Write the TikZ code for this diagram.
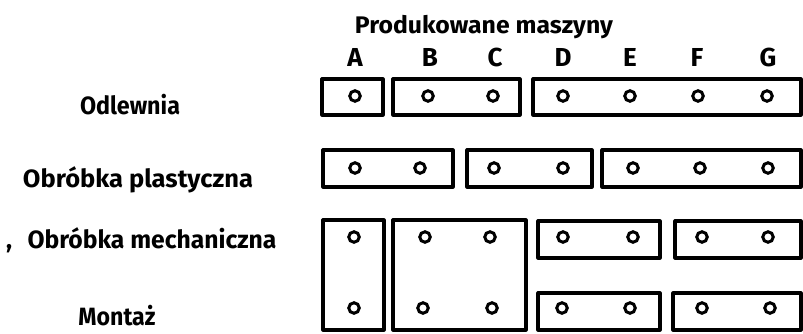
\documentclass[tikz,border=0pt]{standalone}
\usepackage{fontspec}
\usepackage{graphicx}
\setmainfont{Fira Sans}
\newcommand{\wtext}[2]{\resizebox{#1}{\height}{#2}}
\begin{document}
\begin{tikzpicture}[x=1pt,y=-1pt,
  box/.style={draw=black,line width=3.2pt,line join=round},
  hole/.style={circle,draw=black,line width=3pt,inner sep=0pt,minimum size=10.5pt},
  rowlabel/.style={anchor=base,inner sep=0pt,font=\bfseries\fontsize{25}{25}\selectfont},
  collabel/.style={anchor=base,font=\bfseries\fontsize{26}{26}\selectfont},
  title/.style={anchor=base,inner sep=0pt,font=\bfseries\fontsize{24}{24}\selectfont}]
\useasboundingbox (0,0) rectangle (803,334);
% title and column letters
\node[title] (t) at (484,34) {\wtext{258pt}{Produkowane maszyny}};
\foreach \n/\x in {A/355,B/430,C/495,D/563,E/630,F/697,G/768}
  \node[collabel] (c\n) at (\x,67) {\n};
% row labels
\node[rowlabel] (r1) at (130,114) {\wtext{100pt}{Odlewnia}};
\node[rowlabel] (r2) at (138,187) {\wtext{230pt}{Obróbka plastyczna}};
\node[rowlabel] (r3c) at (9,248) {,};
\node[rowlabel] (r3) at (152,248) {\wtext{249pt}{Obróbka mechaniczna}};
\node[rowlabel] (r4) at (117,325) {\wtext{77pt}{Montaż}};
% boxes row 1
\draw[box] (322,79) rectangle (383,115) coordinate (b1a);
\draw[box] (393,79) rectangle (520,115) coordinate (b1bc);
\draw[box] (533,79) rectangle (801,115) coordinate (b1dg);
% boxes row 2
\draw[box] (323,150) rectangle (453,187) coordinate (b2ab);
\draw[box] (467,150) rectangle (592,187) coordinate (b2cd);
\draw[box] (602,150) rectangle (801,187) coordinate (b2eg);
% boxes rows 3-4
\draw[box] (323,220) rectangle (384,330) coordinate (b34a);
\draw[box] (393,220) rectangle (526,330) coordinate (b34bc);
\draw[box] (538,221) rectangle (660,258) coordinate (b3de);
\draw[box] (675,221) rectangle (801,258) coordinate (b3fg);
\draw[box] (538,293) rectangle (660,330) coordinate (b4de);
\draw[box] (673,293) rectangle (801,330) coordinate (b4fg);
% holes
\foreach \n/\x in {A/355,B/428,C/493,D/563,E/630,F/698,G/767}
  \node[hole] (h1\n) at (\x,96) {};
\foreach \n/\x in {A/355,B/420,C/494,D/563,E/633,F/700,G/768}
  \node[hole] (h2\n) at (\x,168) {};
\foreach \n/\x in {A/354,B/425,C/490,D/563,E/633,F/702,G/768}
  \node[hole] (h3\n) at (\x,237) {};
\foreach \n/\x in {A/354,B/423,C/492,D/562,E/630,F/702,G/770}
  \node[hole] (h4\n) at (\x,308) {};
\end{tikzpicture}
\end{document}
